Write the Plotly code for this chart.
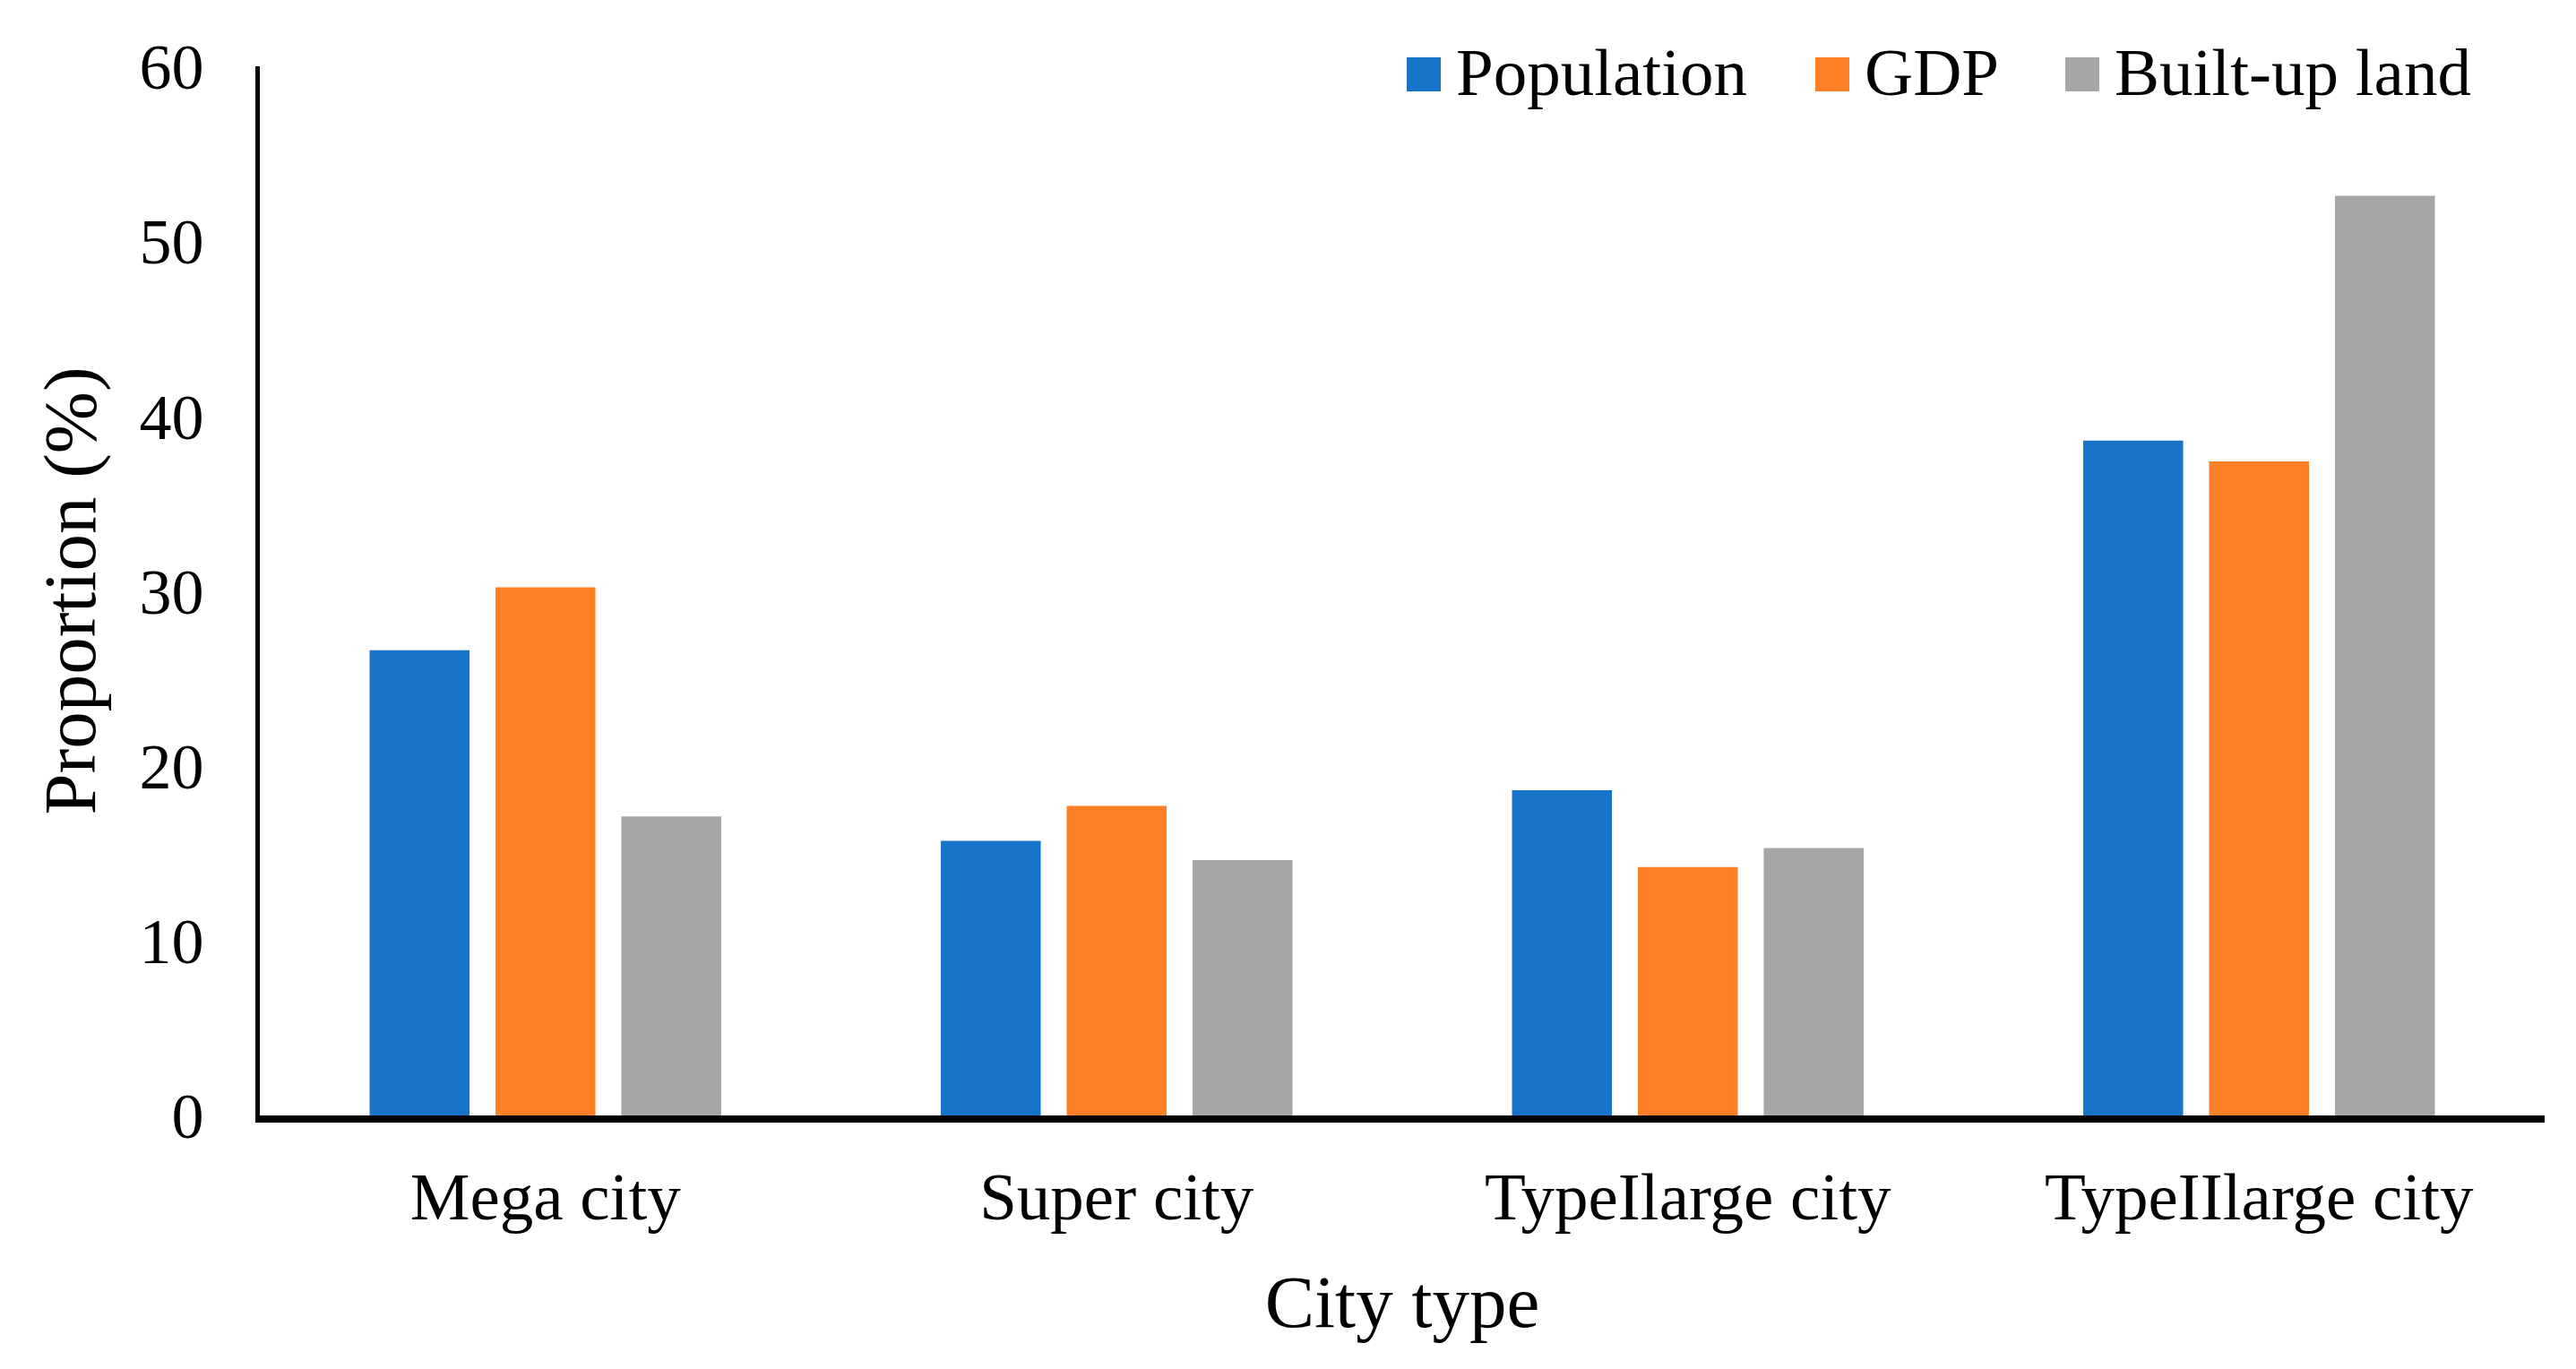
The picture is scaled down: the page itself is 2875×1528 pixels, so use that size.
import plotly.graph_objects as go

categories = ["Mega city", "Super city", "TypeIlarge city", "TypeIIlarge city"]
population = [26.6, 15.7, 18.6, 38.6]
gdp = [30.2, 17.7, 14.2, 37.4]
built_up = [17.1, 14.6, 15.3, 52.6]
y_ticks = [0, 10, 20, 30, 40, 50, 60]

series = [
    ("Population", population, "#1874C9"),
    ("GDP", gdp, "#FF7F27"),
    ("Built-up land", built_up, "#A6A6A6"),
]

FONT = "Liberation Serif"

# page geometry (the page body adds an 8px offset)
W, H = 2867, 1520
PLOT_L, PLOT_R, PLOT_T, PLOT_B = 290, 2840, 74, 1245   # in page pixels
OFF = 8

def px(x):
    return (x - PLOT_L) / (PLOT_R - PLOT_L)

def py(y):
    return (PLOT_B - y) / (PLOT_B - PLOT_T)

fig = go.Figure()
for name, vals, color in series:
    fig.add_trace(go.Bar(x=categories, y=vals, name=name, showlegend=False,
                         marker=dict(color=color, line=dict(width=0))))

# legend drawn as layout items (large square keys like the original)
legend_left = [1570, 2026, 2305]
KEY = 38
KEY_TOP = 64
shapes, annotations = [], []
for (name, _, color), x0 in zip(series, legend_left):
    shapes.append(dict(type="rect", xref="paper", yref="paper",
                       x0=px(x0), x1=px(x0 + KEY), y0=py(KEY_TOP + KEY), y1=py(KEY_TOP),
                       fillcolor=color, line=dict(width=0)))
    annotations.append(dict(text=name, xref="paper", yref="paper", showarrow=False,
                            x=px(x0 + KEY + 15), xanchor="left",
                            y=py(KEY_TOP + KEY / 2 - 2), yanchor="middle",
                            font=dict(family=FONT, size=75, color="black")))

fig.update_layout(
    width=W, height=H,
    margin=dict(l=PLOT_L - OFF, r=W + OFF - PLOT_R, t=PLOT_T - OFF, b=H + OFF - PLOT_B),
    paper_bgcolor="white", plot_bgcolor="white",
    barmode="group", bargap=0.339, bargroupgap=0.206,
    font=dict(family=FONT, color="black", size=75),
    showlegend=False,
    shapes=shapes, annotations=annotations,
)
fig.update_xaxes(
    showline=True, linecolor="black", linewidth=8, showgrid=False,
    ticks="", tickfont=dict(family=FONT, size=75), ticklabelstandoff=18,
    title=dict(text="City type", font=dict(family=FONT, size=83), standoff=50),
)
fig.update_yaxes(
    range=[0, 60], tickvals=y_ticks, showline=True, linecolor="black", linewidth=5,
    showgrid=False, zeroline=False, ticks="", tickfont=dict(family=FONT, size=72),
    ticklabelstandoff=43,
    title=dict(text="Proportion (%)", font=dict(family=FONT, size=83), standoff=23),
)

fig.write_html("out.html")
